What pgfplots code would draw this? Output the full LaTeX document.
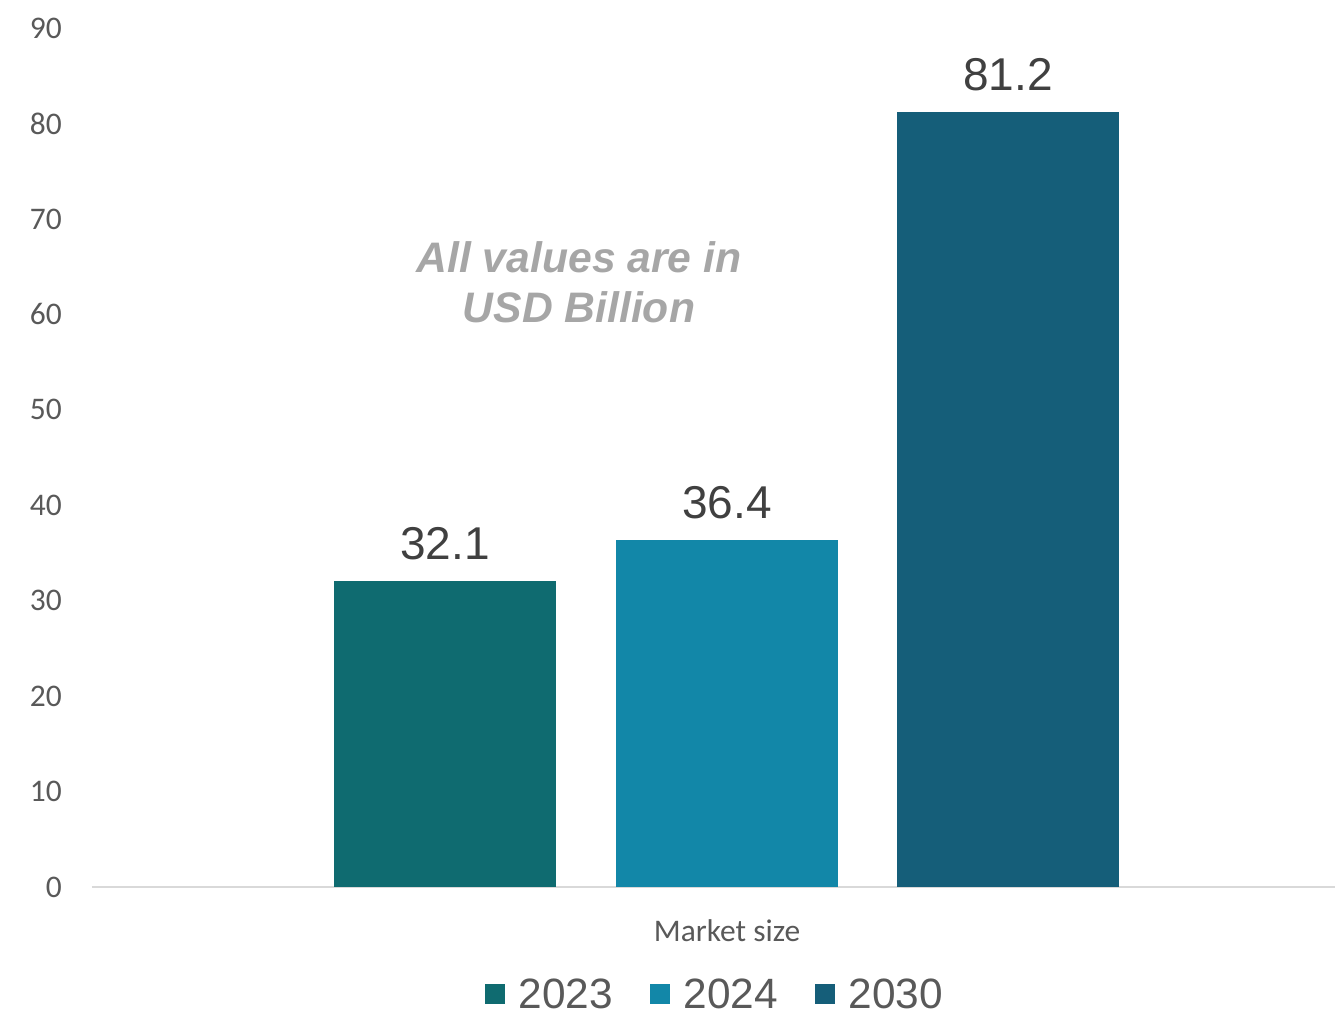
\documentclass[border=0pt]{standalone}
\usepackage{pgfplots}
\pgfplotsset{compat=1.18}
\usepackage{fontspec}
\setmainfont{Liberation Sans}
\newfontfamily\calib{Carlito}
\definecolor{cA}{HTML}{0F6B70}
\definecolor{cB}{HTML}{1287A8}
\definecolor{cC}{HTML}{155E79}
\definecolor{tick}{HTML}{595959}
\definecolor{lab}{HTML}{404040}
\definecolor{ann}{HTML}{A6A6A6}
\definecolor{axl}{HTML}{D9D9D9}
\begin{document}
\begin{tikzpicture}[x=1pt,y=1pt]
\useasboundingbox (0,0) rectangle (1001.25,761.25);
\begin{axis}[
  at={(69pt,96pt)}, anchor=south west,
  scale only axis, width=932.25pt, height=644.25pt,
  xmin=92, xmax=1335, ymin=0, ymax=90,
  /pgf/number format/assume math mode=true,
  axis lines*=left,
  y axis line style={draw=none},
  x axis line style={draw=axl, line width=1.5pt},
  tick style={draw=none},
  ytick={0,10,...,90},
  yticklabel style={font=\calib\fontsize{23.6}{28}\selectfont, text=tick, inner sep=0pt, anchor=east, xshift=-22.5pt},
  xtick={727}, xticklabels={Market size},
  xticklabel style={font=\calib\fontsize{23.6}{28}\selectfont, text=tick, inner sep=0pt, anchor=north, yshift=-20pt},
  ybar, bar width=222, bar shift=0pt,
  clip=false,
  nodes near coords,
  every node near coord/.append style={font=\fontsize{34.5}{40}\selectfont, text=lab, inner sep=0pt, anchor=south, yshift=15.5pt},
  nodes near coords={\pgfmathprintnumber[fixed,precision=1,fixed zerofill,assume math mode=true]{\pgfplotspointmeta}},
  legend columns=3,
  legend style={at={(0.5016,-0.125)}, anchor=center, draw=none, fill=none,
    font=\fontsize{31.8}{36}\selectfont, text=tick, inner sep=0pt,
    /tikz/every odd column/.append style={column sep=8pt},
    /tikz/every even column/.append style={column sep=26pt}},
  legend image code/.code={\fill[#1] (0pt,-7.5pt) rectangle (15pt,7.5pt);},
]
\addplot[fill=cA, draw=none] coordinates {(445,32.1)};
\addplot[fill=cB, draw=none] coordinates {(727,36.4)};
\addplot[fill=cC, draw=none] coordinates {(1008,81.2)};
\legend{2023,2024,2030}
\node[font=\bfseries\itshape\fontsize{32}{37.5}\selectfont, text=ann, align=center] at (axis cs:579,63.4) {All values are in\\USD Billion};
\end{axis}
\end{tikzpicture}
\end{document}
